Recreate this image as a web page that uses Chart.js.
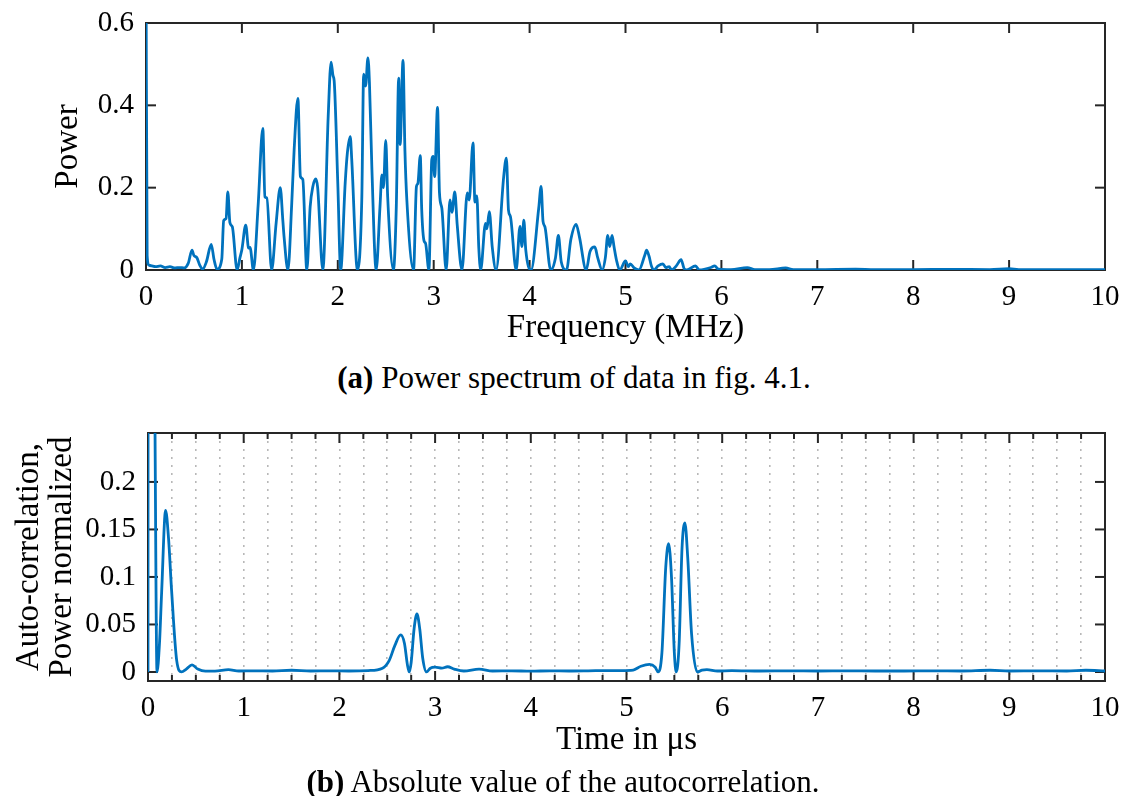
<!DOCTYPE html>
<html><head><meta charset="utf-8">
<script src="https://cdn.jsdelivr.net/npm/chart.js@4.4.0/dist/chart.umd.min.js"></script>
<style>
html,body{margin:0;padding:0;background:#fff;}
body{width:1125px;height:796px;position:relative;overflow:hidden;font-family:'Liberation Serif',serif;color:#000;}
canvas{position:absolute;left:0;}
#c1{top:0}
#c2{top:400px}
.cap{position:absolute;white-space:nowrap;font-size:31px;line-height:31px;width:700px;text-align:center;}
</style></head><body>
<canvas id="c1" width="1125" height="350"></canvas>
<div class="cap" style="top:362px;left:224px"><b>(a)</b> Power spectrum of data in fig. 4.1.</div>
<canvas id="c2" width="1125" height="365"></canvas>
<div class="cap" style="top:766px;left:213px"><b>(b)</b> Absolute value of the autocorrelation.</div>
<script>
// ---- Data: power spectrum (a) ----
const freqMHz = [0,0.012,0.03,0.06,0.1,0.15,0.2,0.25,0.3,0.35,0.4,0.44,0.48,0.5,0.53,0.56,0.59,0.63,0.68,0.71,0.74,
 0.79,0.81,0.835,0.853,0.875,0.9,0.95,0.98,1.0,1.04,1.07,1.085,1.12,1.17,1.218,1.24,1.26,1.31,1.357,1.40,1.427,1.44,1.48,
 1.52,1.545,1.584,1.61,1.635,1.677,1.712,1.74,1.77,1.79,1.844,1.90,1.93,1.95,1.962,2.0,2.03,2.077,2.10,2.13,2.145,2.205,
 2.25,2.27,2.29,2.314,2.33,2.355,2.40,2.44,2.46,2.476,2.50,2.52,2.58,2.61,2.635,2.65,2.68,2.70,2.72,2.79,2.82,2.835,2.86,
 2.875,2.9,2.915,2.95,2.98,2.995,3.01,3.04,3.06,3.085,3.13,3.17,3.19,3.22,3.245,3.295,3.35,3.37,3.41,3.43,3.45,3.47,3.49,
 3.54,3.555,3.58,3.61,3.65,3.73,3.758,3.78,3.80,3.86,3.90,3.92,3.94,3.96,4.015,4.095,4.12,4.14,4.16,4.22,4.27,4.30,4.33,
 4.385,4.43,4.485,4.52,4.59,4.63,4.68,4.71,4.757,4.79,4.815,4.835,4.86,4.88,4.905,4.94,5.0,5.03,5.05,5.09,5.14,5.2,5.22,
 5.245,5.27,5.295,5.34,5.39,5.42,5.455,5.48,5.53,5.58,5.61,5.64,5.73,5.77,5.89,5.93,5.97,6.1,6.27,6.35,6.5,6.67,6.75,7.0,
 7.4,7.6,8.0,8.4,8.8,9.0,9.1,9.5,10];
const power = [0.75,0.035,0.012,0.01,0.008,0.01,0.006,0.008,0.005,0.006,0.005,0.016,0.048,0.035,0.03,0.012,0.002,0.02,0.062,0.025,0.002,
 0.026,0.12,0.125,0.19,0.115,0.105,0.0,0.03,0.05,0.109,0.053,0.055,0.0,0.16,0.344,0.178,0.175,0.0,0.114,0.2,0.12,0.08,0.0,
 0.163,0.293,0.417,0.227,0.22,0.0,0.154,0.203,0.221,0.2,0.0,0.374,0.505,0.472,0.46,0.21,0.0,0.211,0.285,0.324,0.27,0.0,
 0.17,0.476,0.447,0.515,0.455,0.25,0.0,0.154,0.231,0.2,0.315,0.178,0.0,0.154,0.466,0.305,0.509,0.29,0.17,0.0,0.203,0.21,0.278,
 0.147,0.07,0.065,0.0,0.268,0.276,0.227,0.395,0.188,0.15,0.0,0.17,0.14,0.19,0.11,0.0,0.187,0.17,0.309,0.165,0.18,0.055,0.0,
 0.113,0.1,0.142,0.057,0.0,0.227,0.272,0.145,0.13,0.0,0.106,0.057,0.121,0.049,0.0,0.15,0.203,0.118,0.105,0.0,0.03,0.084,0.02,
 0.0,0.074,0.111,0.08,0.0,0.045,0.056,0.03,0.0,0.03,0.084,0.057,0.084,0.057,0.025,0.0,0.022,0.008,0.015,0.005,0.0,0.035,0.048,
 0.034,0.01,0.0,0.01,0.015,0.006,0.008,0.0,0.01,0.025,0.004,0.0,0.01,0.0,0.006,0.01,0.002,0.001,0.006,0.001,0.001,0.005,0.001,0.001,
 0.002,0.001,0.001,0.0015,0.001,0.003,0.001,0.001,0.001];
const freqTicks = [0,1,2,3,4,5,6,7,8,9,10];
const powerTicks = [0,0.2,0.4,0.6];
const powerTickLabels = ['0','0.2','0.4','0.6'];

// ---- Data: autocorrelation (b) ----
const lagUs = [0,0.003,0.07,0.094,0.12,0.143,0.184,0.215,0.247,0.3,0.35,0.4,0.46,0.52,0.6,0.7,0.84,0.95,1.1,1.3,1.5,1.7,1.9,2.1,2.3,
 2.45,2.52,2.58,2.64,2.68,2.71,2.73,2.75,2.78,2.81,2.84,2.87,2.91,2.95,3.0,3.07,3.13,3.2,3.3,3.46,3.6,3.8,4.0,4.2,4.4,4.6,4.8,
 4.95,5.07,5.15,5.24,5.3,5.33,5.37,5.41,5.44,5.47,5.5,5.52,5.55,5.58,5.61,5.64,5.68,5.74,5.79,5.84,5.95,6.1,6.4,6.7,7.0,7.3,
 7.6,7.9,8.2,8.5,8.8,9.0,9.3,9.6,9.8,10];
const autocorr = [0,1.0,0.3,0.0,0.03,0.085,0.17,0.14,0.085,0.012,0.0,0.003,0.0075,0.003,0.0008,0.0008,0.0025,0.001,0.0012,0.001,0.0018,0.001,0.0012,0.001,0.0015,
 0.004,0.012,0.028,0.039,0.03,0.008,0.0,0.01,0.045,0.061,0.045,0.015,0.0,0.004,0.005,0.004,0.0055,0.003,0.001,0.003,0.001,0.0012,0.0008,0.0012,0.001,0.0012,0.0015,
 0.0015,0.002,0.006,0.008,0.005,0.0,0.02,0.11,0.135,0.1,0.02,0.0,0.03,0.13,0.157,0.12,0.04,0.0,0.002,0.0025,0.001,0.0015,0.001,0.0012,0.001,0.0012,
 0.001,0.001,0.0012,0.001,0.0018,0.001,0.0012,0.001,0.0018,0.001];
const lagTicks = [0,0.25,0.5,0.75,1,1.25,1.5,1.75,2,2.25,2.5,2.75,3,3.25,3.5,3.75,4,4.25,4.5,4.75,5,5.25,5.5,5.75,
 6,6.25,6.5,6.75,7,7.25,7.5,7.75,8,8.25,8.5,8.75,9,9.25,9.5,9.75,10];
const acTicks = [0,0.05,0.1,0.15,0.2];
const acTickLabels = ['0','0.05','0.1','0.15','0.2'];

const BLUE = '#0072BD';
const AX = '#262626';
const FONT = 'Liberation Serif';

const frameTicks = {
  id: 'frameTicks',
  beforeDatasetsDraw(chart, args, o) {
    const {ctx, chartArea: a, scales} = chart;
    ctx.save();
    ctx.strokeStyle = AX; ctx.lineWidth = 2;
    const seg = (x1, y1, x2, y2) => { ctx.beginPath(); ctx.moveTo(x1, y1); ctx.lineTo(x2, y2); ctx.stroke(); };
    scales.x.ticks.forEach(t => {
      const p = scales.x.getPixelForValue(t.value);
      const major = Math.abs(t.value / o.majorStep - Math.round(t.value / o.majorStep)) < 1e-9;
      const L = major ? o.majorLen : o.minorLen;
      seg(p, a.bottom, p, a.bottom - L); seg(p, a.top, p, a.top + L);
    });
    scales.y.ticks.forEach(t => {
      const p = scales.y.getPixelForValue(t.value);
      seg(a.left, p, a.left + o.majorLen, p); seg(a.right, p, a.right - o.majorLen, p);
    });
    ctx.strokeRect(a.left, a.top, a.right - a.left, a.bottom - a.top);
    ctx.restore();
  }
};

const tickFont = {family: FONT, size: 29};
const titleFont = {family: FONT, size: 33, lineHeight: 1.0};

function setTicks(vals) { return s => { s.ticks = vals.map(v => ({value: v})); }; }
function fitX(h) { return s => { s.height = h; s.paddingLeft = 0; s.paddingRight = 0; }; }
function fitY(w) { return s => { s.width = w; s.paddingTop = 0; s.paddingBottom = 0; }; }

new Chart(document.getElementById('c1'), {
  type: 'line',
  data: { datasets: [{ data: freqMHz.map((f, i) => ({x: f, y: power[i]})), borderColor: BLUE, borderWidth: 2.8,
    pointRadius: 0, cubicInterpolationMode: 'monotone', fill: false }] },
  options: {
    responsive: false, animation: false, devicePixelRatio: 1,
    layout: { padding: {top: 23, right: 20, left: 0, bottom: 0} },
    plugins: { legend: {display: false}, tooltip: {enabled: false}, frameTicks: {majorStep: 1, majorLen: 10, minorLen: 10} },
    scales: {
      x: { type: 'linear', min: 0, max: 10, afterBuildTicks: setTicks(freqTicks),
        afterFit: fitX(80),
        grid: {display: false, drawTicks: false}, border: {display: false},
        ticks: {autoSkip: false, maxRotation: 0, padding: 10, color: '#000', font: tickFont, callback: v => String(v)},
        title: {display: true, text: 'Frequency (MHz)', color: '#000', font: titleFont, padding: {top: 0, bottom: 5}} },
      y: { type: 'linear', min: 0, max: 0.6, afterBuildTicks: setTicks(powerTicks),
        afterFit: fitY(146),
        grid: {display: false, drawTicks: false}, border: {display: false},
        ticks: {autoSkip: false, padding: 12, color: '#000', font: tickFont, callback: (v, i) => powerTickLabels[i]},
        title: {display: true, text: 'Power', color: '#000', font: titleFont, padding: {top: 52, bottom: 0}} }
    }
  },
  plugins: [frameTicks]
});

new Chart(document.getElementById('c2'), {
  type: 'line',
  data: { datasets: [{ data: lagUs.map((t, i) => ({x: t, y: autocorr[i]})), borderColor: BLUE, borderWidth: 2.8,
    pointRadius: 0, cubicInterpolationMode: 'monotone', fill: false }] },
  options: {
    responsive: false, animation: false, devicePixelRatio: 1,
    layout: { padding: {top: 33, right: 20, left: 0, bottom: 0} },
    plugins: { legend: {display: false}, tooltip: {enabled: false}, frameTicks: {majorStep: 1, majorLen: 10, minorLen: 6} },
    scales: {
      x: { type: 'linear', min: 0, max: 10, afterBuildTicks: setTicks(lagTicks),
        afterFit: fitX(84),
        grid: {display: true, drawTicks: false, color: '#b8b8b8', lineWidth: 1.6}, border: {display: false, dash: [2, 6]},
        ticks: {autoSkip: false, maxRotation: 0, padding: 10, color: '#000', font: tickFont,
          callback: v => Number.isInteger(v) ? String(v) : ''},
        title: {display: true, text: 'Time in μs', color: '#000', font: titleFont, padding: {top: 0, bottom: 8}} },
      y: { type: 'linear', min: -0.0095, max: 0.2515, afterBuildTicks: setTicks(acTicks),
        afterFit: fitY(148),
        grid: {display: false, drawTicks: false}, border: {display: false},
        ticks: {autoSkip: false, padding: 12, color: '#000', font: tickFont, callback: (v, i) => acTickLabels[i]},
        title: {display: true, text: ['Auto-correlation,', 'Power normalized'], color: '#000', font: titleFont,
          padding: {top: 13, bottom: 0}} }
    }
  },
  plugins: [frameTicks]
});
</script>
</body></html>
